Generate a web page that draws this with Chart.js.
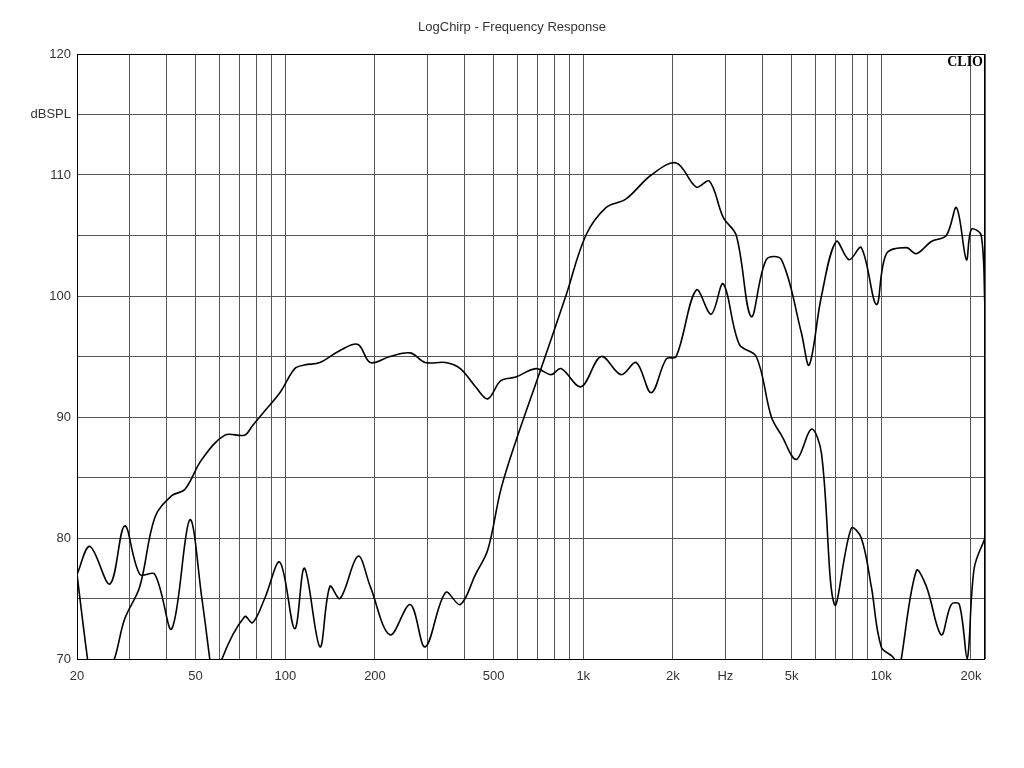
<!DOCTYPE html>
<html><head><meta charset="utf-8">
<script src="https://cdn.jsdelivr.net/npm/chart.js@4/dist/chart.umd.min.js"></script>
<style>html,body{margin:0;padding:0;background:#fff}</style>
</head><body>
<canvas id="c" width="1024" height="768"></canvas>
<script>
const freqA=[20,21.7,23,26.7,28.9,32.5,36.5,41.6,46,52.5,62.7,73,77.7,85.3,95.9,107.6,116,130.7,152.7,175.4,192.8,224.6,262.7,294.8,345,386.7,435,478,529,594,694,780,842,983,1148,1340,1506,1691,1900,2052,2395,2687,2950,3340,3808,4279,4625,5188,5831,6302,6966,7935,8572,9262,10005,11066,11366,11678,13120,14173,15900,17171,18290,19430,20510,22300];
const dbA=[77,70,66,70,73.3,76,81.7,83.5,84,86.5,88.5,88.5,89.3,90.5,92,94,94.3,94.5,95.5,96,94.5,95,95.3,94.5,94.5,94,92.5,91.5,93,93.3,94,93.5,94,92.5,95,93.5,94.5,92,94.8,95,100.5,98.5,101,96,95,90,88.5,86.5,89,87,74.5,80.8,80,76,71,70,68,70,77.3,76,72,74.5,74.5,70,77.5,80];
const freqB=[20,22.1,25.8,28.9,32.5,36.5,41.6,47.8,52.5,55.8,57.9,61.3,73,77.7,85.3,95.9,107.6,116,130.7,141.2,152.7,175.4,192.8,224.6,262.7,294.8,345,386.7,435,478,529,594,722,874,1020,1192,1389,1691,2052,2395,2650,2950,3264,3661,4114,4625,5391,5731,6302,7062,7805,8572,9636,10414,12146,13120,14726,16536,17890,19320,20070,21670,22300];
const dbB=[77,79.3,76.2,81,77,77,72.5,81.5,75,70,67,70,73.5,73,75,78,72.5,77.5,71,76,75,78.5,76,72,74.5,71,75.5,74.5,77,79,84,88,94,100,105,107.3,108,110,111,109,109.5,106.5,105,98.3,103,103,97,94.3,100,104.5,103,104,99.3,103.5,104,103.5,104.5,105,107.3,103,105.5,105,99];
const xGrid=[20,30,40,50,60,70,80,90,100,200,300,400,500,600,700,800,900,1000,2000,3000,4000,5000,6000,7000,8000,9000,10000,20000,22300];
const xLabels={20:'20',50:'50',100:'100',200:'200',500:'500',1000:'1k',2000:'2k',3000:'Hz',5000:'5k',10000:'10k',20000:'20k'};
const yLabels={120:'120',115:'dBSPL',110:'110',100:'100',90:'90',80:'80',70:'70'};
const toPts=(f,d)=>f.map((v,i)=>({x:v,y:d[i]}));
const F='"Liberation Sans", Arial, sans-serif';
const texts={id:'texts',afterDraw(ch){const c=ch.ctx;c.save();c.fillStyle='#333';c.font='13px '+F;c.textAlign='center';c.textBaseline='middle';c.fillText('LogChirp - Frequency Response',512,27);c.font='bold 14px "Liberation Serif", serif';c.fillStyle='#000';c.textAlign='right';c.fillText('CLIO',983,62);const a=ch.chartArea;c.strokeStyle='#000';c.lineWidth=1;c.strokeRect(a.left+0.5,a.top+0.5,a.right-a.left-1,a.bottom-a.top);c.restore();}};
new Chart(document.getElementById('c'),{type:'line',
data:{datasets:[
{data:toPts(freqA,dbA),borderColor:'#000',borderWidth:1.6,pointRadius:0,tension:0.35,fill:false},
{data:toPts(freqB,dbB),borderColor:'#000',borderWidth:1.6,pointRadius:0,tension:0.35,fill:false}]},
options:{responsive:false,animation:false,devicePixelRatio:1,
layout:{padding:{left:0,right:39,top:54,bottom:0}},
plugins:{legend:{display:false},tooltip:{enabled:false}},
scales:{
x:{type:'logarithmic',min:20,max:22300,
afterBuildTicks(ax){ax.ticks=xGrid.map(v=>({value:v}));},
afterFit(ax){ax.height=109;},
grid:{color:'#555',drawTicks:false,lineWidth:1},border:{display:false},
ticks:{autoSkip:false,maxRotation:0,padding:10,color:'#333',font:{family:F,size:13},callback:(v)=>xLabels[v]||''}},
y:{min:70,max:120,
afterBuildTicks(ax){const t=[];for(let v=70;v<=120;v+=5)t.push({value:v});ax.ticks=t;},
afterFit(ax){ax.width=77;},
grid:{color:'#555',drawTicks:false,lineWidth:1},border:{display:false},
ticks:{autoSkip:false,padding:6,color:'#333',font:{family:F,size:13},callback:(v)=>yLabels[v]||''}}}},
plugins:[texts]});
</script></body></html>
